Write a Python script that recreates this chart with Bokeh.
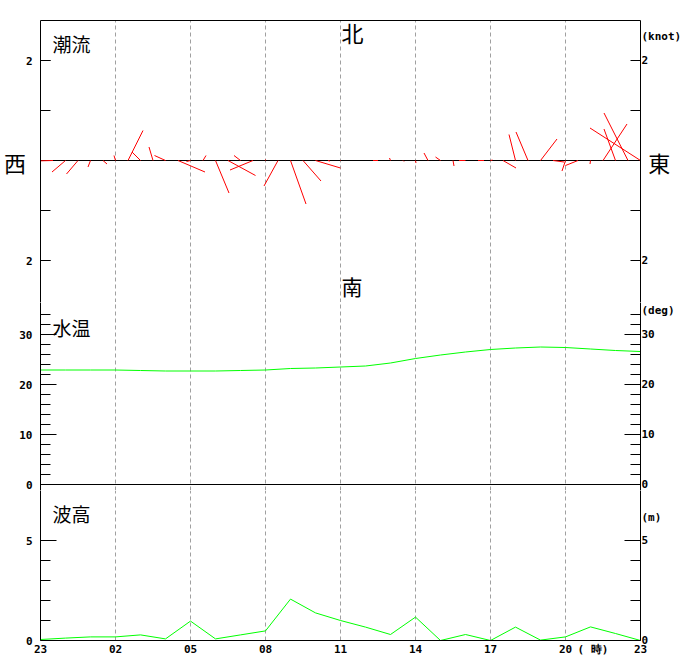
import math
from bokeh.plotting import figure
from bokeh.layouts import column
from bokeh.models import Range1d, LinearAxis, FixedTicker, Grid, Span, Label
from bokeh.embed import file_html
from bokeh.resources import INLINE

# ---------------- data ----------------
HOURS = list(range(25))                      # hours after 23:00
TIME_TICKS = [0, 3, 6, 9, 12, 15, 18, 21, 24]
TIME_LABELS = ["23", "02", "05", "08", "11", "14", "17", "20", "23"]
GRID_HOURS = [3, 6, 9, 12, 15, 18, 21]
HOUR_UNIT = "( 時)"
HOUR_UNIT_AT = 22.1

# water temperature (deg)
TEMP = [22.9, 22.9, 22.9, 22.9, 22.8, 22.7, 22.7, 22.7, 22.8, 22.9, 23.2, 23.3, 23.5,
        23.7, 24.3, 25.2, 25.9, 26.5, 27.0, 27.3, 27.5, 27.4, 27.1, 26.8, 26.6]
TEMP_MAJOR = [0, 10, 20, 30]
TEMP_MINOR = [2, 4, 6, 8, 12, 14, 16, 18, 22, 24, 26, 28, 32, 34]

# wave height (m)
WAVE = [0.05, 0.12, 0.18, 0.18, 0.28, 0.08, 0.97, 0.08, 0.28, 0.48, 2.07, 1.38, 1.0,
        0.67, 0.3, 1.17, 0.0, 0.3, 0.0, 0.67, 0.02, 0.18, 0.68, 0.35, 0.0]
WAVE_MAJOR = [0, 5]
WAVE_MINOR = [1, 2, 3, 4]

# tidal current, every 30 minutes: east / north components (knot)
CUR_T = [h / 2 for h in range(49)]
CUR_E = [-0.48, -0.75, -0.27, -0.23, -0.05, 0.08, -0.03, 0.30, -0.17, -0.08,
         -0.22, 0.54, -0.08, 0.06, 0.27, 0.55, -0.13, -0.46, 0.00, -0.28,
         0.31, 0.36, 0.50, 0.04, 0.01, 0.00, 0.00, -0.10, -0.02, 0.02,
         0.01, -0.08, -0.10, 0.02, -0.13, 0.12, 0.04, 0.26, -0.13, -0.24,
         0.33, 0.22, -0.07, -0.25, -0.01, 0.48, -0.23, -0.48, -1.01]
CUR_N = [-0.28, -0.02, -0.23, -0.27, -0.13, -0.07, 0.10, 0.60, 0.17, 0.27,
         0.10, -0.23, -0.02, 0.10, -0.65, -0.30, 0.10, -0.19, 0.02, -0.51,
         -0.87, -0.41, -0.15, -0.01, 0.00, 0.00, 0.00, 0.00, 0.05, -0.02,
         -0.05, 0.15, 0.07, -0.11, 0.00, 0.00, 0.01, -0.15, 0.52, 0.57,
         0.43, -0.03, -0.21, -0.10, -0.07, 0.73, 0.63, 0.95, 0.65]
CUR_MAJOR = [-2, 2]
CUR_MINOR = [-2, -1, 1, 2]

# unit labels and where they sit on the right-hand axes
KNOT_UNIT, KNOT_UNIT_AT = "(knot)", 2.48
DEG_UNIT, DEG_UNIT_AT = "(deg)", 34.8
M_UNIT, M_UNIT_AT = "(m)", 6.15

# ---------------- style ----------------
NUM_FONT = "DejaVu Sans Mono"
JP_FONT = "Noto Sans CJK JP"
GRID_COLOR = "#a0a0a0"
FRAME_W = 600
PX_PER_HOUR = FRAME_W / 24
PX_PER_KNOT = 50
HOURS_PER_KNOT = PX_PER_KNOT / PX_PER_HOUR

xr = Range1d(0, 24)


def base(frame_h, yr, top=0, bottom=0):
    p = figure(frame_width=FRAME_W, frame_height=frame_h, x_range=xr, y_range=yr,
               output_backend="svg", toolbar_location=None,
               x_axis_location=None, y_axis_location=None,
               min_border_left=40, min_border_right=40,
               min_border_top=top, min_border_bottom=bottom,
               outline_line_color=None, background_fill_color="white",
               border_fill_color="white")
    p.grid.visible = False
    p.add_layout(Grid(dimension=0, ticker=FixedTicker(ticks=GRID_HOURS),
                      grid_line_color=GRID_COLOR, grid_line_dash="4 3"))
    return p


def num_axis(ticks, minor, major_len, minor_len, standoff, overrides=None):
    ax = LinearAxis(ticker=FixedTicker(ticks=ticks, minor_ticks=minor),
                    major_tick_in=major_len, major_tick_out=0,
                    minor_tick_in=minor_len, minor_tick_out=0,
                    major_tick_line_color="black", minor_tick_line_color="black",
                    axis_line_color="black", major_label_standoff=standoff,
                    major_label_text_font=NUM_FONT, major_label_text_font_size="11px",
                    major_label_text_font_style="bold", major_label_text_color="black")
    if overrides:
        ax.major_label_overrides = overrides
    return ax


def side_label(ax, text, standoff):
    # compass letter written beside the axis, horizontally
    ax.axis_label = text
    ax.axis_label_text_font = JP_FONT
    ax.axis_label_text_font_size = "22px"
    ax.axis_label_text_font_style = "normal"
    ax.axis_label_text_color = "black"
    ax.axis_label_standoff = standoff
    if hasattr(ax, "axis_label_orientation"):
        ax.axis_label_orientation = "horizontal"


def left_axis(p, major, minor, major_len, minor_len, overrides=None):
    ax = num_axis(major, minor, major_len, minor_len, 8, overrides)
    p.add_layout(ax, "left")
    return ax


def right_axis(p, major, minor, major_len, minor_len, unit, unit_at):
    # labels are padded by one monospace cell so that the unit text can start at the axis
    over = {t: " " + str(abs(t)) for t in major}
    over[unit_at] = unit
    ax = num_axis(major + [unit_at], sorted(set(major + minor)), 0, minor_len, 1, over)
    p.add_layout(ax, "right")
    if major_len > minor_len:   # longer marks at the labelled values
        p.ray(x=[24] * len(major), y=major, length=major_len, length_units="screen",
              angle=math.pi, line_color="black", line_width=1)
    return ax


def edge_axis(p, side, color):
    ax = LinearAxis(ticker=FixedTicker(ticks=[]), axis_line_color=color,
                    major_tick_in=0, major_tick_out=0, minor_tick_in=0, minor_tick_out=0,
                    major_label_standoff=0, major_label_text_font_size="0px")
    p.add_layout(ax, side)


def label(p, x, y, text, size, font=JP_FONT, style="normal", align="left",
          baseline="middle"):
    p.add_layout(Label(x=x, y=y, text=text, text_font=font, text_font_size=size,
                       text_font_style=style, text_align=align, text_baseline=baseline,
                       text_color="black"))


# ---- panel 1 : tidal current ----
p1 = base(282, Range1d(-2.84, 2.8), top=20)
edge_axis(p1, "above", "black")
edge_axis(p1, "below", "#999999")
la = left_axis(p1, CUR_MAJOR, CUR_MINOR, 10, 10, {2: "2", -2: "2"})
side_label(la, "西", -3)
ra = right_axis(p1, CUR_MAJOR, CUR_MINOR, 10, 10, KNOT_UNIT, KNOT_UNIT_AT)
side_label(ra, "東", -36)
p1.add_layout(Span(location=0, dimension="width", line_color="black", line_width=1,
                   level="underlay"))
p1.segment(x0=CUR_T, y0=[0] * len(CUR_T),
           x1=[t + e * HOURS_PER_KNOT for t, e in zip(CUR_T, CUR_E)], y1=CUR_N,
           line_color="#ff0000", line_width=1)
label(p1, 0.48, 2.35, "潮流", "19px")
label(p1, 12.04, 2.58, "北", "22px")
label(p1, 12.04, -2.5, "南", "21px")

# ---- panel 2 : water temperature ----
p2 = base(188, Range1d(-1.2, 36.4))
left_axis(p2, TEMP_MAJOR, TEMP_MINOR, 16, 10)
right_axis(p2, TEMP_MAJOR, TEMP_MINOR, 16, 10, DEG_UNIT, DEG_UNIT_AT)
p2.add_layout(Span(location=0, dimension="width", line_color="black", line_width=1))
p2.line(HOURS, TEMP, line_color="#00ff00", line_width=1)
label(p2, 0.48, 31.5, "水温", "19px")

# ---- panel 3 : wave height ----
p3 = base(150, Range1d(0, 7.5), bottom=20)
left_axis(p3, WAVE_MAJOR, WAVE_MINOR, 16, 10)
right_axis(p3, WAVE_MAJOR, WAVE_MINOR, 16, 10, M_UNIT, M_UNIT_AT)
x_over = {t: s for t, s in zip(TIME_TICKS, TIME_LABELS)}
x_over[HOUR_UNIT_AT] = HOUR_UNIT
xa = LinearAxis(ticker=FixedTicker(ticks=TIME_TICKS + [HOUR_UNIT_AT]),
                major_label_overrides=x_over,
                major_tick_in=0, major_tick_out=0, minor_tick_in=0, minor_tick_out=0,
                axis_line_color="black", major_label_standoff=2,
                major_label_text_font=NUM_FONT, major_label_text_font_size="11px",
                major_label_text_font_style="bold", major_label_text_color="black")
p3.add_layout(xa, "below")
p3.line(HOURS, WAVE, line_color="#00ff00", line_width=1)
label(p3, 0.48, 6.33, "波高", "19px")

layout = column(p1, p2, p3, spacing=0)
open("out.html", "w").write(file_html(layout, INLINE))
